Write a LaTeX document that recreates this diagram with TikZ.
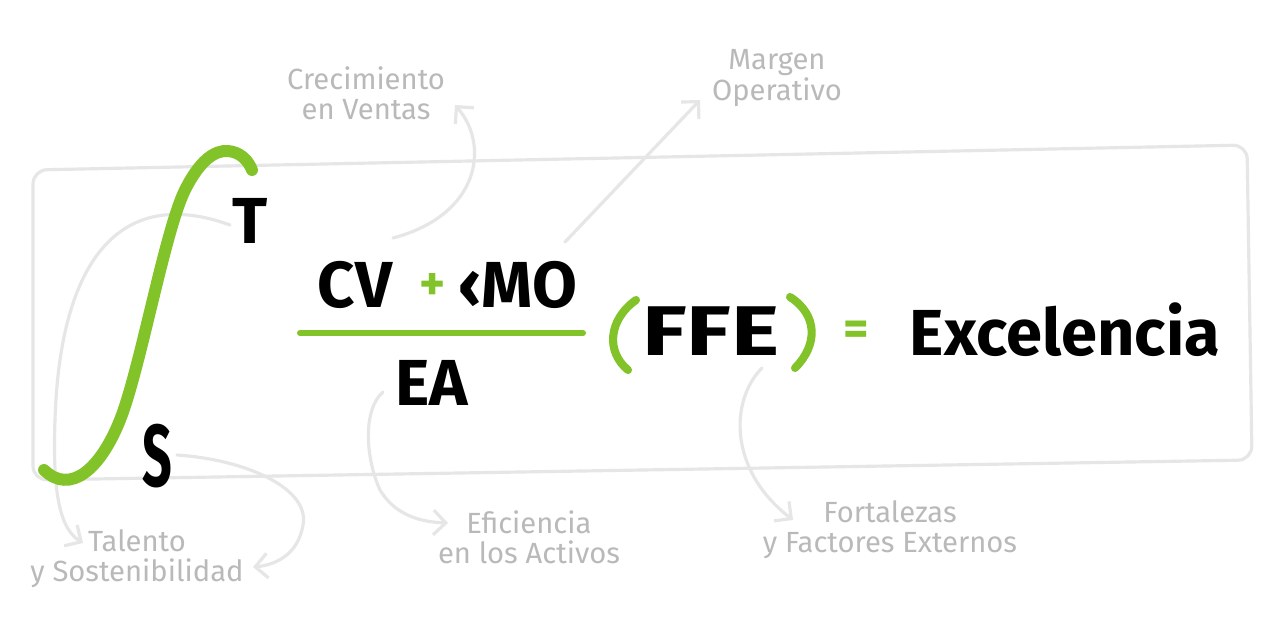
\documentclass[tikz,border=0pt]{standalone}
\usepackage{fontspec}
\setmainfont{Fira Sans}
\usepackage{xcolor}
\usetikzlibrary{arrows.meta}
\definecolor{leafgreen}{HTML}{82C32A}
\definecolor{notegray}{HTML}{B9B9B9}
\definecolor{linegray}{HTML}{E6E6E6}

\begin{document}
\begin{tikzpicture}[x=0.01cm, y=-0.01cm,
                every node/.append style = {inner sep=0pt},
                term/.style = {font=\fontsize{18.5}{20}\selectfont\bfseries, text=black},
                accent/.style = {leafgreen, line width=2.3pt, line cap=round},
                greytext/.style = {font=\fontsize{8.3}{8.6}\selectfont, text=notegray, align=center},
                pointer/.style = {linegray, line width=0.9pt, line cap=round, -{Straight Barb[length=3.5pt,width=7pt]}},
                boxline/.style = {linegray, line width=0.9pt, rounded corners=4pt}]
                \fill[white] (0,0) rectangle (1277,640);
                \useasboundingbox (0,0) rectangle (1277,640);
                \draw[boxline] (33,170) -- (1247,145) -- (1252,460) -- (33,480) -- cycle;
                \node[term] (cv) at (355,285) {CV};
                \node[term, text=leafgreen, font=\fontsize{14}{14}\selectfont\bfseries] (plus) at (433,287) {+};
                \node[term] (mo) at (518,285) {‹MO};
                \node[term] (ea) at (432,383) {EA};
                \node[term, font=\fontsize{20}{22}\selectfont\bfseries] (ffe) at (711,331) {\scalebox{1.3}[1]{FFE}};
                \node[term, text=leafgreen, font=\fontsize{14}{14}\selectfont\bfseries] (eq) at (856,333) {=};
                \node[term] (exc) at (1065,330) {Excelencia};
                \node[term] (upper) at (250,221) {T};
                \node[term] (lower) at (157,456) {\scalebox{0.8}[1.35]{S}};
                \node[greytext] (crec) at (366,93) {Crecimiento\\en Ventas};
                \node[greytext] (marg) at (777,78) {Margen\\Operativo};
                \node[greytext] (tal) at (137,559) {Talento\\y Sostenibilidad};
                \node[greytext] (efi) at (529,537) {Eficiencia\\en los Activos};
                \node[greytext] (fort) at (890,530) {Fortalezas\\y Factores Externos};
                \coordinate (cv-from) at (393,238);
                \coordinate (cv-to) at (455,105);
                \coordinate (mo-from) at (565,242);
                \coordinate (mo-to) at (700,100);
                \coordinate (upper-from) at (230,225);
                \coordinate (lower-from) at (177,455);
                \coordinate (tal-left) at (83,543);
                \coordinate (tal-right) at (253,567);
                \coordinate (ea-from) at (383,392);
                \coordinate (efi-to) at (448,523);
                \coordinate (ffe-from) at (762,368);
                \coordinate (fort-to) at (793,520);
                \draw[pointer] (cv-from) .. controls (480,215) and (490,145) .. (cv-to);
                \draw[pointer] (mo-from) -- (mo-to);
                \draw[pointer] (upper-from) .. controls (120,185) and (60,260) .. (55,420) .. controls (52,500) and (62,530) .. (tal-left);
                \draw[pointer] (lower-from) .. controls (250,460) and (310,490) .. (303,525) .. controls (298,555) and (275,565) .. (tal-right);
                \draw[pointer] (ea-from) .. controls (362,410) and (366,460) .. (380,490) .. controls (395,515) and (420,522) .. (efi-to);
                \draw[pointer] (ffe-from) .. controls (730,400) and (728,470) .. (fort-to);
                \draw[accent, line width=3.4pt] (44,470) .. controls (70,495) and (100,470) .. (120,420)
                    .. controls (140,370) and (165,230) .. (185,190)
                    .. controls (200,160) and (215,150) .. (228,151)
                    .. controls (240,152) and (248,160) .. (252,170);
                \draw[accent, line width=1.7pt] (300,333) -- (583,333);
                \draw[accent] (636,300) .. controls (608,320) and (606,352) .. (628,370);
                \draw[accent] (790,297) .. controls (818,315) and (818,345) .. (795,368);
            \end{tikzpicture}
\end{document}
